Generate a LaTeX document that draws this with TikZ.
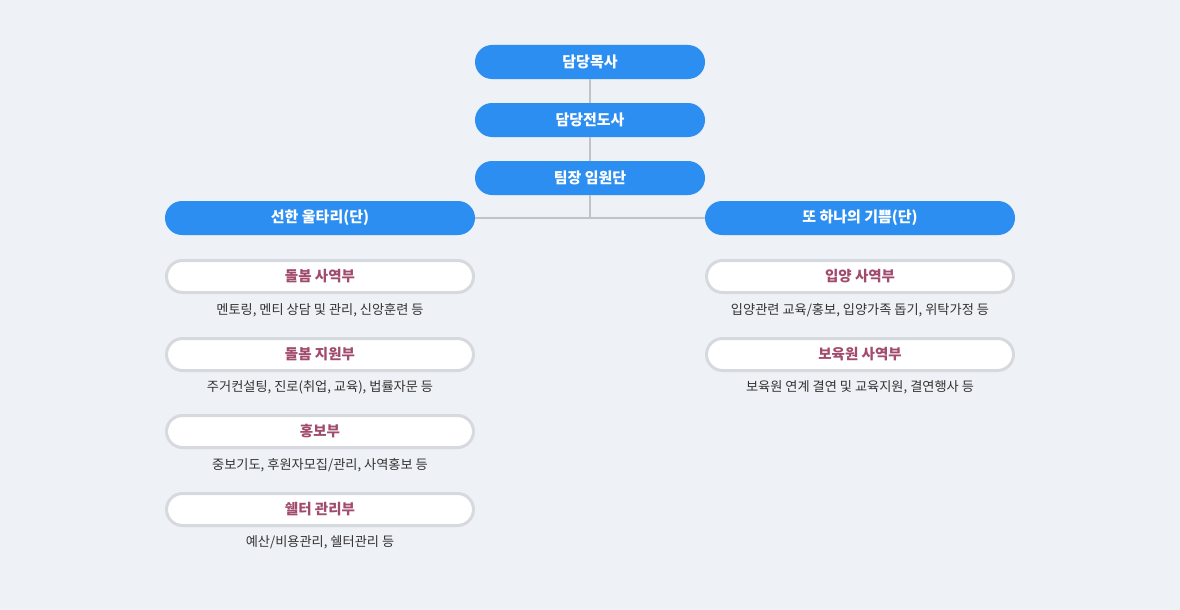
\documentclass[tikz,border=0pt]{standalone}
\usepackage{fontspec}
\setmainfont{Noto Sans CJK KR}
\usetikzlibrary{shapes.misc}
\definecolor{bg}{HTML}{EEF1F6}
\definecolor{blue}{HTML}{2B8EF0}
\definecolor{linec}{HTML}{C0C3C8}
\definecolor{pillb}{HTML}{D6D9DE}
\definecolor{pink}{HTML}{A24C6D}
\definecolor{txt}{HTML}{333333}
\tikzset{
  bluepill/.style={rounded rectangle, fill=blue, text=white, font=\fontsize{15}{15}\selectfont\bfseries, minimum height=34pt, inner sep=0pt},
  whitepill/.style={rounded rectangle, fill=white, draw=pillb, line width=3pt, text=pink, font=\fontsize{14.5}{15}\selectfont\bfseries, minimum height=32pt, minimum width=307pt, inner sep=0pt},
  desc/.style={text=txt, font=\fontsize{13.2}{13}\selectfont, inner sep=0pt},
  conn/.style={draw=linec, line width=2pt}
}
\begin{document}
\begin{tikzpicture}[x=1pt,y=-1pt]
\fill[bg] (0,0) rectangle (1180,610);
\useasboundingbox (0,0) rectangle (1180,610);
\node[bluepill, minimum width=230pt] (a) at (590,62) {담당목사};
\node[bluepill, minimum width=230pt] (b) at (590,120) {담당전도사};
\node[bluepill, minimum width=230pt] (c) at (590,178) {팀장 임원단};
\node[bluepill, minimum width=310pt] (l) at (320,218) {선한 울타리(단)};
\node[bluepill, minimum width=310pt] (r) at (860,218) {또 하나의 기쁨(단)};
\coordinate (j) at (590,218);
\draw[conn] (a.south) -- (b.north);
\draw[conn] (b.south) -- (c.north);
\draw[conn] (c.south) -- (j);
\draw[conn] (l.east) -- (r.west);

\node[whitepill] (l1) at (320,276.5) {돌봄 사역부};
\node[desc] (l1d) at (320,310) {멘토링, 멘티 상담 및 관리, 신앙훈련 등};
\node[whitepill] (l2) at (320,354.5) {돌봄 지원부};
\node[desc] (l2d) at (320,387) {주거컨설팅, 진로(취업, 교육), 법률자문 등};
\node[whitepill] (l3) at (320,431.5) {홍보부};
\node[desc] (l3d) at (320,465) {중보기도, 후원자모집/관리, 사역홍보 등};
\node[whitepill] (l4) at (320,509.5) {쉘터 관리부};
\node[desc] (l4d) at (320,542) {예산/비용관리, 쉘터관리 등};

\node[whitepill] (r1) at (860,276.5) {입양 사역부};
\node[desc] (r1d) at (860,310) {입양관련 교육/홍보, 입양가족 돕기, 위탁가정 등};
\node[whitepill] (r2) at (860,354.5) {보육원 사역부};
\node[desc] (r2d) at (860,387) {보육원 연계 결연 및 교육지원, 결연행사 등};
\end{tikzpicture}
\end{document}
